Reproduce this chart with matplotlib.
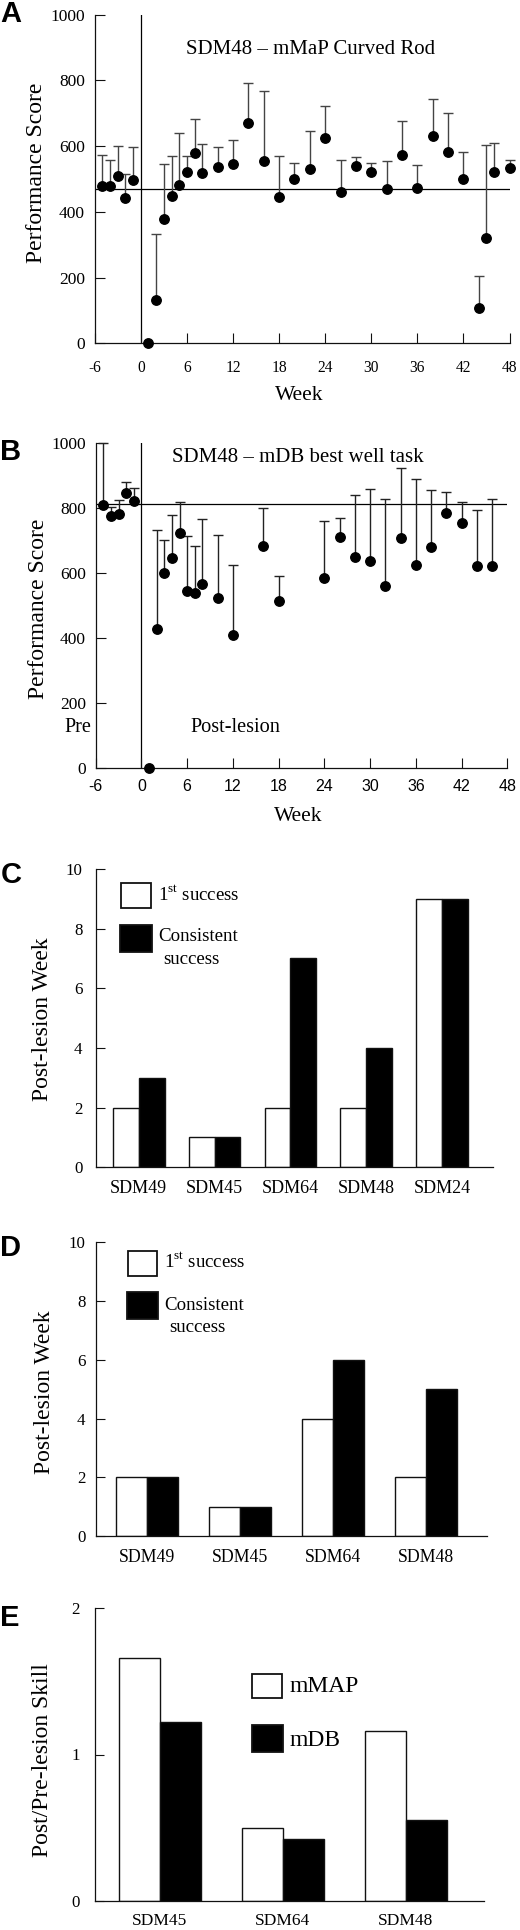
import matplotlib
matplotlib.use('Agg')
import matplotlib.pyplot as plt
from matplotlib.patches import Rectangle
import numpy as np

SERIF = ['Liberation Serif', 'DejaVu Serif']
SANS = ['Liberation Sans', 'DejaVu Sans']
plt.rcParams['font.family'] = SERIF
plt.rcParams['mathtext.fontset'] = 'custom'
plt.rcParams['mathtext.rm'] = 'Liberation Serif'

# ---------------- data ----------------
# Panel A: SDM48 - mMaP Curved Rod
a_weeks = [-5, -4, -3, -2, -1, 1, 2, 3, 4, 5, 6, 7, 8, 10, 12, 14, 16, 18, 20, 22,
           24, 26, 28, 30, 32, 34, 36, 38, 40, 42, 44, 45, 46, 48]
a_scores = [479, 480, 509, 443, 497, 0, 132, 377, 448, 482, 522, 578, 517, 535, 546,
            669, 556, 444, 499, 529, 626, 459, 541, 520, 471, 574, 474, 631, 582, 499,
            108, 320, 521, 534]
a_err_up = [95, 78, 90, 73, 100, 0, 201, 169, 122, 157, 49, 106, 89, 63, 73,
            124, 213, 126, 50, 118, 97, 100, 25, 30, 85, 104, 70, 112, 120, 84,
            98, 283, 90, 24]
a_baseline = 469

# Panel B: SDM48 - mDB best well task
b_weeks = [-5, -4, -3, -2, -1, 1, 2, 3, 4, 5, 6, 7, 8, 10, 12, 16, 18, 24, 26, 28,
           30, 32, 34, 36, 38, 40, 42, 44, 46]
b_scores = [811, 777, 784, 846, 822, 0, 430, 602, 647, 724, 546, 539, 568, 525, 410,
            684, 515, 585, 712, 651, 639, 561, 709, 627, 682, 787, 754, 623, 624]
b_err_up = [189, 28, 40, 36, 41, 0, 302, 102, 131, 94, 170, 144, 198, 194, 216,
            116, 78, 177, 58, 191, 219, 268, 216, 263, 173, 63, 65, 172, 204]
b_baseline = 812

week_ticks = [-6, 0, 6, 12, 18, 24, 30, 36, 42, 48]
score_ticks = [0, 200, 400, 600, 800, 1000]

# Panel C
c_cats = ['SDM49', 'SDM45', 'SDM64', 'SDM48', 'SDM24']
c_first = [2, 1, 2, 2, 9]
c_consistent = [3, 1, 7, 4, 9]

# Panel D
d_cats = ['SDM49', 'SDM45', 'SDM64', 'SDM48']
d_first = [2, 1, 4, 2]
d_consistent = [2, 1, 6, 5]

# Panel E
e_cats = ['SDM45', 'SDM64', 'SDM48']
e_mmap = [1.66, 0.50, 1.16]
e_mdb = [1.22, 0.42, 0.55]

# ---------------- layout ----------------
W, H = 520, 1930
fig = plt.figure(figsize=(W / 100, H / 100), dpi=100)


def rect(l, r, t, b):
    return [l / W, 1 - b / H, (r - l) / W, (b - t) / H]


def style_spines(ax):
    for s in ['top', 'right']:
        ax.spines[s].set_visible(False)
    for s in ['left', 'bottom']:
        ax.spines[s].set_linewidth(0.9)
        ax.spines[s].set_color('#111111')


def perf_panel(ax, weeks, scores, errs, base, xtick_family, xtick_size, xpad, ecolor):
    weeks = np.array(weeks)
    scores = np.array(scores, dtype=float)
    errs = np.array(errs, dtype=float)
    ax.set_xlim(-6, 48)
    ax.set_ylim(0, 1000)
    style_spines(ax)
    ax.axhline(base, color='black', lw=0.9, zorder=1)
    ax.axvline(0, color='black', lw=0.9, zorder=1)
    m = errs > 0
    ax.errorbar(weeks[m], scores[m], yerr=[np.zeros(m.sum()), errs[m]], fmt='none',
                ecolor=ecolor, elinewidth=1.0, capsize=3.6, capthick=1.0,
                zorder=2, clip_on=False)
    ax.plot(weeks, scores, 'o', color='black', ms=6.8, zorder=3, clip_on=False)
    ax.set_xticks(week_ticks)
    ax.set_xticklabels([str(t) for t in week_ticks], family=xtick_family,
                       fontsize=xtick_size)
    ax.set_yticks(score_ticks)
    ax.set_yticklabels([str(t) for t in score_ticks], fontsize=12.5)
    ax.tick_params(axis='both', direction='in', length=7.2, width=0.8, color='#111111')
    ax.tick_params(axis='x', pad=xpad)
    ax.tick_params(axis='y', pad=7)


# ---- Panel A ----
axA = fig.add_axes(rect(94.7, 509.5, 14.7, 343.3))
perf_panel(axA, a_weeks, a_scores, a_err_up, a_baseline, SERIF, 11.2, 12, '#444444')
axA.text(22.1, 893, 'SDM48 \u2013 mMaP Curved Rod', ha='center', va='center',
         fontsize=15)
axA.set_ylabel('Performance Score', fontsize=17, ha='center', va='center')
axA.yaxis.set_label_coords(-0.1415, 0.518)
axA.set_xlabel('Week', fontsize=15.5, ha='center', va='center')
axA.xaxis.set_label_coords(0.4925, -0.160)

# ---- Panel B ----
axB = fig.add_axes(rect(95.7, 507.3, 443.3, 768.3))
perf_panel(axB, b_weeks, b_scores, b_err_up, b_baseline, SANS, 11.5, 8, '#222222')
axB.text(20.5, 955, 'SDM48 \u2013 mDB best well task', ha='center', va='center',
         fontsize=15)
axB.text(-8.4, 127, 'Pre', ha='center', va='center', fontsize=14.6, clip_on=False)
axB.text(12.3, 127, 'Post-lesion', ha='center', va='center', fontsize=14.6)
axB.set_ylabel('Performance Score', fontsize=17, ha='center', va='center')
axB.yaxis.set_label_coords(-0.140, 0.49)
axB.set_xlabel('Week', fontsize=15.5, ha='center', va='center')
axB.xaxis.set_label_coords(0.4925, -0.149)


def bar_panel(ax, cats, first, second, xlim, width, ymax, yticks, ylabel,
              ylabel_xy, ypad, xfs):
    x = np.arange(len(cats))
    ax.bar(x - width / 2, first, width, color='white', edgecolor='#111111', lw=1.0,
           zorder=2)
    ax.bar(x + width / 2, second, width, color='black', edgecolor='#111111', lw=1.0,
           zorder=2)
    ax.set_xlim(*xlim)
    ax.set_ylim(0, ymax)
    style_spines(ax)
    ax.set_xticks(x)
    ax.set_xticklabels(cats, fontsize=xfs)
    ax.set_yticks(yticks)
    ax.set_yticklabels([str(t) for t in yticks], fontsize=12.2)
    ax.tick_params(axis='x', length=0, pad=9)
    ax.tick_params(axis='y', direction='in', length=6.7, width=0.8, pad=ypad,
                   color='#111111')
    ax.set_ylabel(ylabel, fontsize=17, ha='center', va='center')
    ax.yaxis.set_label_coords(*ylabel_xy)


def legend_box(ax, x0, y0, w, h, fc):
    ax.add_patch(Rectangle((x0, y0), w, h, transform=ax.transAxes, facecolor=fc,
                           edgecolor='#111111', lw=1.3, clip_on=False, zorder=4))


# ---- Panel C ----
axC = fig.add_axes(rect(95.7, 493.3, 869, 1167.3))
bar_panel(axC, c_cats, c_first, c_consistent, (-0.568, 4.678), 0.34, 10,
          [0, 2, 4, 6, 8, 10], 'Post-lesion Week', (-0.134, 0.497), 9.5, 13)
legend_box(axC, 0.0636, 0.868, 0.0747, 0.0838, 'white')
legend_box(axC, 0.0611, 0.7218, 0.0805, 0.0915, 'black')
axC.text(0.156, 0.9105, r'1$^{\mathrm{st}}$ success', transform=axC.transAxes,
         ha='left', va='center', fontsize=13.6)
axC.text(0.1575, 0.773, 'Consistent', transform=axC.transAxes, ha='left',
         va='center', fontsize=13.6)
axC.text(0.170, 0.697, 'success', transform=axC.transAxes, ha='left', va='center',
         fontsize=13.6)

# ---- Panel D ----
axD = fig.add_axes(rect(95.7, 487.3, 1242.3, 1536))
bar_panel(axD, d_cats, d_first, d_consistent, (-0.552, 3.659), 0.333, 10,
          [0, 2, 4, 6, 8, 10], 'Post-lesion Week', (-0.132, 0.491), 7.5, 12.8)
legend_box(axD, 0.0817, 0.885, 0.0756, 0.0851, 'white')
legend_box(axD, 0.0792, 0.7389, 0.0807, 0.0909, 'black')
axD.text(0.175, 0.9305, r'1$^{\mathrm{st}}$ success', transform=axD.transAxes,
         ha='left', va='center', fontsize=13.6)
axD.text(0.176, 0.7865, 'Consistent', transform=axD.transAxes, ha='left',
         va='center', fontsize=13.6)
axD.text(0.189, 0.7106, 'success', transform=axD.transAxes, ha='left', va='center',
         fontsize=13.6)

# ---- Panel E ----
axE = fig.add_axes(rect(95.3, 484.3, 1608.3, 1900.7))
bar_panel(axE, e_cats, e_mmap, e_mdb, (-0.523, 2.636), 0.333, 2,
          [0, 1, 2], 'Post/Pre-lesion Skill', (-0.136, 0.481), 11, 12.5)
legend_box(axE, 0.4036, 0.6943, 0.0771, 0.081, 'white')
legend_box(axE, 0.402, 0.5085, 0.0805, 0.0923, 'black')
axE.text(0.4987, 0.7319, 'mMAP', transform=axE.transAxes, ha='left', va='center',
         fontsize=17)
axE.text(0.4987, 0.547, 'mDB', transform=axE.transAxes, ha='left', va='center',
         fontsize=17)

# ---- panel letters ----
for letter, yc in [('A', 14), ('B', 452.5), ('C', 875), ('D', 1248.5), ('E', 1618.5)]:
    fig.text(0.5 / W, 1 - yc / H, letter, ha='left', va='center', fontsize=21,
             fontweight='bold', family=SANS)

fig.savefig('out.png', dpi=100)
